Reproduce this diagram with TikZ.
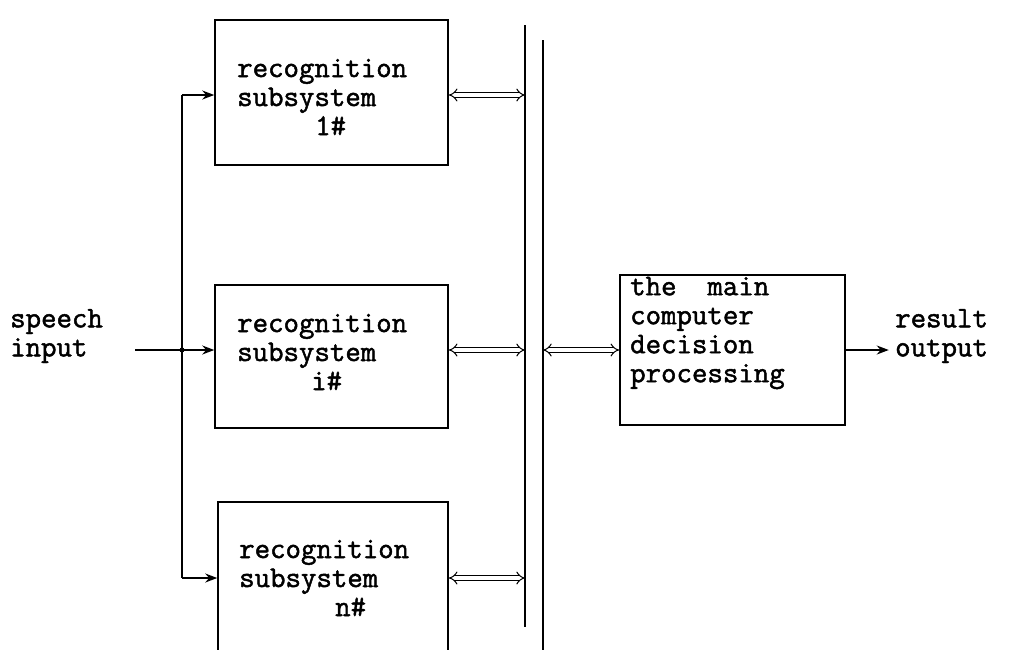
\documentclass[tikz,border=0pt]{standalone}
\usepackage{fontspec}
\usetikzlibrary{arrows.meta}
\newfontfamily\typefam{Latin Modern Mono}[FakeBold=1.6]
\newcommand\lblfont{\typefam\fontsize{30}{29}\selectfont}
\begin{document}
\begin{tikzpicture}[x=1pt,y=-1pt,
  box/.style={draw,line width=1.5pt,inner sep=0pt},
  lbl/.style={font=\lblfont,align=left,inner sep=0pt,anchor=west},
  feed/.style={line width=1.5pt,-{Stealth[length=12pt,width=9pt]}},
  link/.style={double,double distance=3.5pt,line width=1pt,{Implies[length=6pt]}-{Implies[length=6pt]}},
  bus/.style={line width=1.8pt}]
\useasboundingbox (0,0) rectangle (1028,649);
\clip (0,0) rectangle (1028,649);

% recognition subsystems
\node[box,minimum width=233pt,minimum height=145pt] (b1) at (331.5,92.5) {};
\node[box,minimum width=233pt,minimum height=143pt] (b2) at (331.5,356.5) {};
\node[box,minimum width=230pt,minimum height=153pt] (b3) at (333,578.5) {};
\node[lbl] (t1) at (237,97) {recognition\\subsystem\\\hspace*{78pt}1\#};
\node[lbl] (t2) at (237,352) {recognition\\subsystem\\\hspace*{74pt}i\#};
\node[lbl] (t3) at (239,578) {recognition\\subsystem\\\hspace*{96pt}n\#};

% main computer
\node[box,minimum width=225pt,minimum height=150pt] (m) at (732.5,350) {};
\node[lbl] (mt) at (630,333) {the\ \ main\\computer\\decision\\processing};

% input and output labels
\node[lbl] (in) at (10,336) {speech\\input};
\node[lbl] (out) at (895,336) {result\\output};

% bus lines
\coordinate (busLt) at (525,25);
\coordinate (busLb) at (525,627);
\coordinate (busRt) at (543,40);
\coordinate (busRb) at (543,660);
\draw[bus] (busLt) -- (busLb);
\draw[bus] (busRt) -- (busRb);

% input distribution
\coordinate (src) at (135,350);
\coordinate (split) at (182,350);
\coordinate (top) at (182,95);
\coordinate (bot) at (182,578);
\draw[line width=1.5pt] (top) -- (bot);
\draw[feed] (src) -- (b2.west |- split);
\draw[feed] (top) -- (b1.west |- top);
\draw[feed] (bot) -- (b3.west |- bot);
\fill (split) circle (2.5pt);

% links to the bus
\draw[link] (b1.east |- top) -- (busLt |- top);
\draw[link] (b2.east |- split) -- (busLt |- split);
\draw[link] (b3.east |- bot) -- (busLt |- bot);
\draw[link] (busRt |- m.west) -- (m.west);

% result
\draw[feed,line width=1.2pt] (m.east) -- ++(43,0) coordinate (outend);
\end{tikzpicture}
\end{document}
